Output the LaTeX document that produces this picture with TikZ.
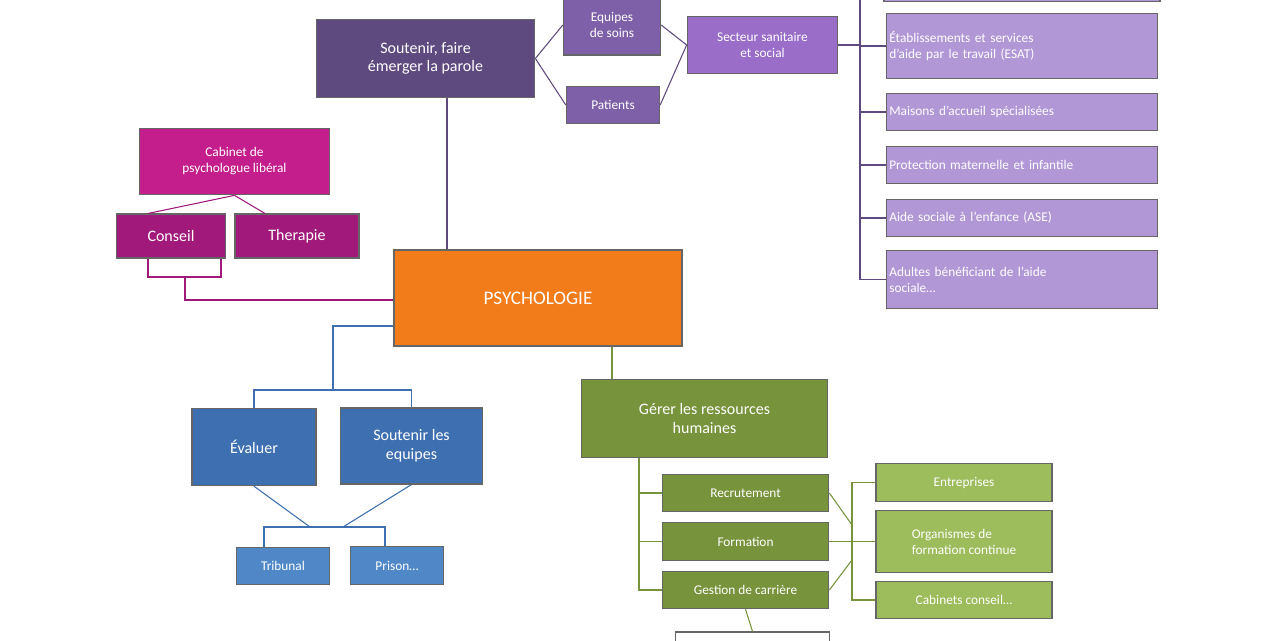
\documentclass[tikz,border=0pt]{standalone}
\usepackage{fontspec}
\setmainfont{Carlito}
\usepackage{tikz}
\usetikzlibrary{positioning}

\definecolor{violetfonce}{HTML}{5F4A7F}
\definecolor{violet}{HTML}{7E60A8}
\definecolor{violetclair}{HTML}{9A6DC8}
\definecolor{lilas}{HTML}{B297D6}
\definecolor{magenta}{HTML}{C41E8D}
\definecolor{prune}{HTML}{A1197A}
\definecolor{orange}{HTML}{F27B1A}
\definecolor{bleu}{HTML}{3E70B1}
\definecolor{bleuclair}{HTML}{5088C7}
\definecolor{vert}{HTML}{77933C}
\definecolor{vertclair}{HTML}{9DBC5B}

\begin{document}
\begin{tikzpicture}[x=0.75pt, y=-0.75pt,
        boite/.style={rectangle, draw=black!60, thick, text=white, align=center, inner sep=2pt},
        liste/.style={boite, fill=lilas, align=left, text width=#1},
        lien/.style={draw=#1, thick},
        lien/.default=black!60
      ]
        \useasboundingbox (0,0) rectangle (1280,640);
        % boites
        \node[boite, fill=orange, minimum width=216pt, minimum height=72pt, font=\Large]  (psy)  at (538,298)  {PSYCHOLOGIE};

        \node[boite, fill=violetfonce, minimum width=164pt, minimum height=58pt, font=\large\scshape]  (parole)  at (425.5,58.5)  {Soutenir, faire\\émerger la parole};
        \node[boite, fill=violet, minimum width=73pt, minimum height=45pt]  (equipes)  at (612,25)  {Equipes\\de soins};
        \node[boite, fill=violet, minimum width=70pt, minimum height=28pt]  (patients)  at (613,105)  {Patients};
        \node[boite, fill=violetclair, minimum width=113pt, minimum height=43pt]  (secteur)  at (762.5,45)  {Secteur sanitaire\\et social};

        \node[boite, fill=lilas, minimum width=207pt, minimum height=20pt]  (haut)  at (1022,-12)  {};
        \node[liste=199pt, minimum height=49pt]  (esat)  at (1022,46)  {Établissements et services\\d’aide par le travail (ESAT)};
        \node[liste=199pt, minimum height=28pt]  (maisons)  at (1022,112)  {Maisons d’accueil spécialisées};
        \node[liste=199pt, minimum height=28pt]  (pmi)  at (1022,165)  {Protection maternelle et infantile};
        \node[liste=199pt, minimum height=28pt]  (ase)  at (1022,218)  {Aide sociale à l’enfance (ASE)};
        \node[liste=199pt, minimum height=43pt]  (adultes)  at (1022,279.5)  {Adultes bénéficiant de l’aide\\sociale…};

        \node[boite, fill=magenta, minimum width=143pt, minimum height=50pt]  (cabinet)  at (234.5,161.5)  {Cabinet de\\psychologue libéral};
        \node[boite, fill=prune, minimum width=82pt, minimum height=33pt, font=\large\scshape]  (conseil)  at (171,236)  {Conseil};
        \node[boite, fill=prune, minimum width=93pt, minimum height=33pt, font=\large\scshape]  (therapie)  at (297,236)  {Therapie};

        \node[boite, fill=bleu, minimum width=93pt, minimum height=58pt, font=\large\scshape]  (evaluer)  at (254,447)  {Évaluer};
        \node[boite, fill=bleu, minimum width=107pt, minimum height=57pt, font=\large\scshape]  (equipe)  at (411.5,446)  {Soutenir les\\equipes};
        \node[boite, fill=bleuclair, minimum width=70pt, minimum height=28pt]  (tribunal)  at (283,566)  {Tribunal};
        \node[boite, fill=bleuclair, minimum width=70pt, minimum height=28pt]  (prison)  at (397,565.5)  {Prison…};

        \node[boite, fill=vert, minimum width=185pt, minimum height=58pt, font=\large\scshape]  (grh)  at (704.5,418.5)  {Gérer les ressources\\humaines};
        \node[boite, fill=vert, minimum width=125pt, minimum height=28pt]  (recrut)  at (745.5,493)  {Recrutement};
        \node[boite, fill=vert, minimum width=125pt, minimum height=28pt]  (formation)  at (745.5,541.5)  {Formation};
        \node[boite, fill=vert, minimum width=125pt, minimum height=28pt]  (carriere)  at (745.5,590)  {Gestion de carrière};
        \node[boite, fill=vertclair, minimum width=132pt, minimum height=28pt]  (entreprises)  at (964,482.5)  {Entreprises};
        \node[boite, fill=vertclair, align=left, minimum width=132pt, minimum height=46pt]  (organismes)  at (964,541.5)  {Organismes de\\formation continue};
        \node[boite, fill=vertclair, align=left, minimum width=132pt, minimum height=28pt]  (cabinets)  at (964,600)  {Cabinets conseil…};
        \node[boite, fill=white, minimum width=116pt, minimum height=30pt]  (suite)  at (752.5,652)  {};

        % liens
        \draw[lien=violetfonce]  (parole.south -| 447,0) -- (psy.north -| 447,0);
        \draw[lien=violetfonce]  (parole.east) -- (equipes.west);
        \draw[lien=violetfonce]  (parole.east) -- (patients.west);
        \draw[lien=violetfonce]  (equipes.east) -- (secteur.west);
        \draw[lien=violetfonce]  (patients.east) -- (secteur.west);
        \coordinate (rail) at (860,0);
        \draw[lien=violetfonce]  (secteur.east) -- (rail |- secteur.east);
        \draw[lien=violetfonce]  (rail) -- (rail |- adultes.west);
        \foreach \n in {esat, maisons, pmi, ase, adultes}
          \draw[lien=violetfonce]  (rail |- \n.west) -- (\n.west);

        \draw[lien=prune]  (cabinet.south) -- (conseil.north -| 148,0) ++(0,0);
        \draw[lien=prune]  (cabinet.south) -- (therapie.north -| 265,0);
        \draw[lien=prune]  (conseil.south -| 148,0) |- (221,277) -- (therapie.south -| 221,0);
        \draw[lien=prune]  (185,277) |- (psy.west |- 0,300);

        \draw[lien=bleu]  (psy.west |- 0,326) -| (333,390);
        \draw[lien=bleu]  (evaluer.north) |- (333,390) -| (equipe.north);
        \draw[lien=bleu]  (evaluer.south) -- (310,527);
        \draw[lien=bleu]  (equipe.south) -- (343,527);
        \draw[lien=bleu]  (tribunal.north -| 264,0) |- (385,527) -- (prison.north -| 385,0);

        \draw[lien=vert]  (psy.south -| 612,0) -- (grh.north -| 612,0);
        \draw[lien=vert]  (grh.south -| 639,0) |- (carriere.west);
        \draw[lien=vert]  (639,0 |- recrut.west) -- (recrut.west);
        \draw[lien=vert]  (639,0 |- formation.west) -- (formation.west);
        \coordinate (pivot) at (852,0);
        \draw[lien=vert]  (recrut.east) -- (852,525);
        \draw[lien=vert]  (carriere.east) -- (852,560);
        \draw[lien=vert]  (formation.east) -- (formation.east -| organismes.west);
        \draw[lien=vert]  (entreprises.west) -| (pivot |- cabinets.west) -- (cabinets.west);
        \draw[lien=vert]  (carriere.south) -- (suite.north);
\end{tikzpicture}
\end{document}
